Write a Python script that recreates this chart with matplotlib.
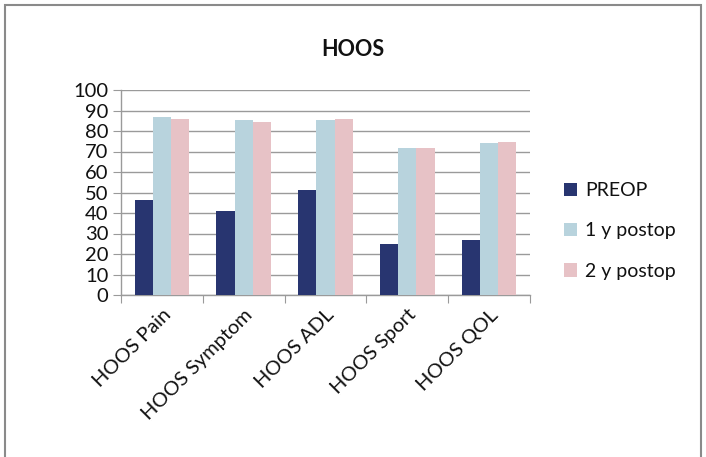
import matplotlib
matplotlib.use("Agg")
import matplotlib.pyplot as plt
import numpy as np
from matplotlib.patches import Rectangle

categories = ["HOOS Pain", "HOOS Symptom", "HOOS ADL", "HOOS Sport", "HOOS QOL"]
series_names = ["PREOP", "1 y postop", "2 y postop"]
preop = [46.5, 41.2, 51.2, 24.7, 26.8]
postop_1y = [86.8, 85.2, 85.2, 71.6, 74.2]
postop_2y = [85.8, 84.6, 85.8, 71.6, 74.7]
yticks = [0, 10, 20, 30, 40, 50, 60, 70, 80, 90, 100]

colors = ["#283570", "#b8d3dd", "#e7c2c6"]
grid_color = "#9a9a9a"

plt.rcParams["font.family"] = ["Lato", "DejaVu Sans"]

fig = plt.figure(figsize=(7.06, 4.57), dpi=100)
ax = fig.add_axes([121 / 706, 1 - 295 / 457, (530 - 121) / 706, (295 - 90) / 457])

x = np.arange(len(categories))
width = 0.222
for i, (vals, name) in enumerate(zip([preop, postop_1y, postop_2y], series_names)):
    ax.bar(x + (i - 1) * width, vals, width, color=colors[i], label=name, zorder=3)

ax.set_xlim(-0.5, len(categories) - 0.5)
ax.set_ylim(0, 100)
ax.set_yticks(yticks)
ax.set_yticklabels([str(t) for t in yticks], fontsize=14.5, color="#111111")
ax.yaxis.grid(True, color=grid_color, linewidth=1.0, zorder=0)

# category boundaries carry the x tick marks
ax.set_xticks(np.arange(len(categories) + 1) - 0.5)
ax.set_xticklabels([])
ax.set_xticks(x, minor=True)
ax.set_xticklabels(categories, minor=True, rotation=45, ha="right",
                   rotation_mode="anchor", fontsize=14.5, color="#111111")
ax.tick_params(axis="x", which="major", length=6, color=grid_color, direction="out")
ax.tick_params(axis="x", which="minor", length=0, pad=8)
ax.tick_params(axis="y", length=6, color=grid_color, direction="out", pad=3)

for side in ["top", "right"]:
    ax.spines[side].set_visible(False)
for side in ["left", "bottom"]:
    ax.spines[side].set_color(grid_color)
    ax.spines[side].set_linewidth(1.0)

fig.text(353 / 706, 1 - 50 / 457, "HOOS", ha="center", va="center",
         fontsize=15.5, fontweight="bold", color="#111111")

leg = fig.legend(loc="center left", bbox_to_anchor=(556 / 706, 1 - 231 / 457),
                 borderaxespad=0, frameon=False, fontsize=14, handlelength=0.68,
                 handleheight=0.68, handletextpad=0.4, labelspacing=1.2)
for t in leg.get_texts():
    t.set_color("#111111")

# thin frame around the whole chart
fig.add_artist(Rectangle((5 / 706, -0.05), (701 - 5) / 706, 1.05 - 5 / 457,
                         transform=fig.transFigure, fill=False,
                         edgecolor="#8a8a8a", linewidth=1.5))

fig.savefig("out.png", dpi=100)
